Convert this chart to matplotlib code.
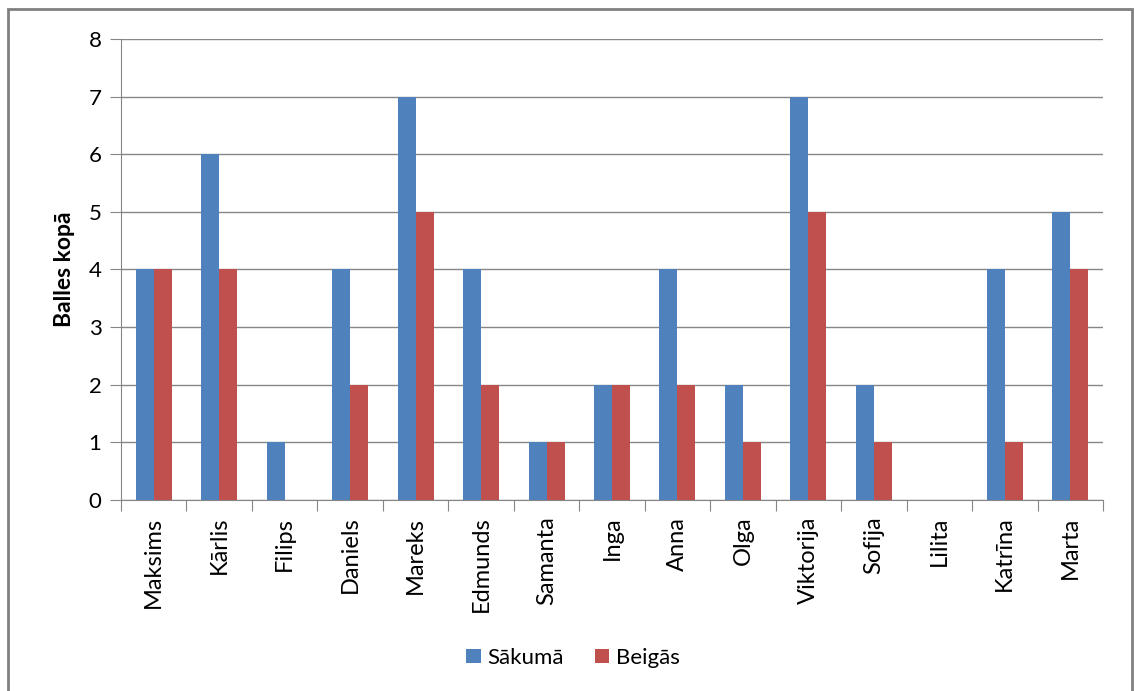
import matplotlib.pyplot as plt
import numpy as np
from matplotlib.patches import Rectangle

plt.rcParams['font.family'] = ['Lato', 'DejaVu Sans']

# data
names = ["Maksims", "Kārlis", "Filips", "Daniels", "Mareks", "Edmunds",
         "Samanta", "Inga", "Anna", "Olga", "Viktorija", "Sofija",
         "Lilita", "Katrīna", "Marta"]
sakuma = [4, 6, 1, 4, 7, 4, 1, 2, 4, 2, 7, 2, 0, 4, 5]
beigas = [4, 4, 0, 2, 5, 2, 1, 2, 2, 1, 5, 1, 0, 1, 4]
y_ticks = [0, 1, 2, 3, 4, 5, 6, 7, 8]

blue = "#4F81BD"
red = "#C0504D"
grid_col = "#868686"

fig = plt.figure(figsize=(11.35, 6.91), dpi=100)
ax = fig.add_axes([0.1066, 0.2764, 0.8652, 0.6672])

x = np.arange(len(names))
w = 0.275
ax.bar(x - w / 2, sakuma, w, color=blue, label="Sākumā", zorder=3)
ax.bar(x + w / 2, beigas, w, color=red, label="Beigās", zorder=3)

ax.set_xlim(-0.5, len(names) - 0.5)
ax.set_ylim(0, 8)
ax.set_yticks(y_ticks)
ax.yaxis.grid(True, color=grid_col, linewidth=1, zorder=0)

# category ticks sit on the boundaries between groups
ax.set_xticks(np.arange(len(names) + 1) - 0.5)
ax.set_xticklabels([])
ax.set_xticks(x, minor=True)
ax.set_xticklabels(names, minor=True, rotation=90, fontsize=17)
ax.tick_params(axis="x", which="major", length=8, color=grid_col)
ax.tick_params(axis="x", which="minor", length=0, pad=12)
ax.tick_params(axis="y", length=8, color=grid_col, labelsize=16, pad=6)

for side in ["top", "right"]:
    ax.spines[side].set_visible(False)
for side in ["left", "bottom"]:
    ax.spines[side].set_color(grid_col)

ax.set_ylabel("Balles kopā", fontsize=16.5, fontweight="bold", labelpad=10)

fig.legend(loc="center", bbox_to_anchor=(0.505, 0.048), ncol=2, frameon=False,
           fontsize=16, handlelength=0.65, handleheight=0.65, handletextpad=0.3,
           columnspacing=1.4)

# outer chart border
fig.patches.append(Rectangle((0.007, -0.01), 0.99, 0.997, transform=fig.transFigure,
                             fill=False, edgecolor="#808080", linewidth=2))

fig.savefig("out.png", dpi=100)
